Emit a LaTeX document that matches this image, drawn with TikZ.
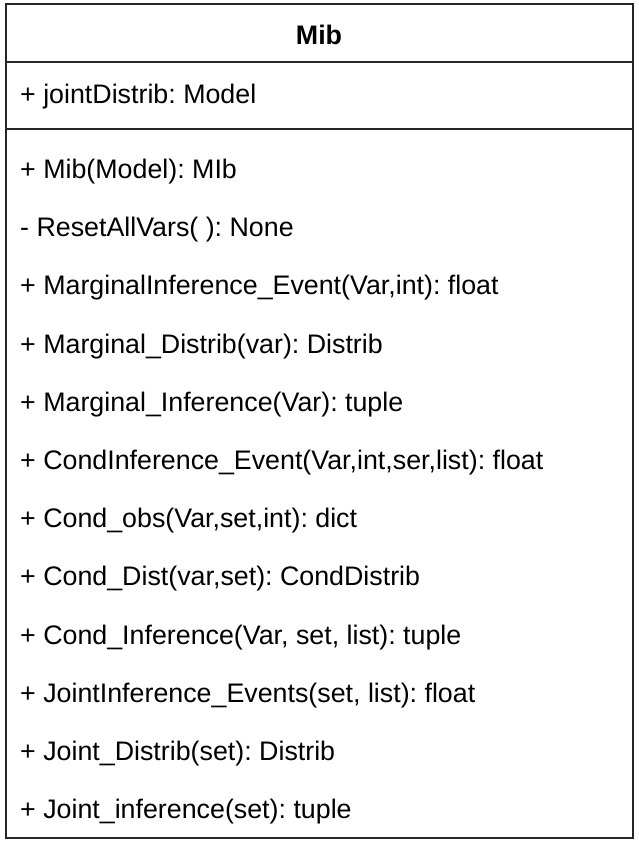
\documentclass[tikz,border=0pt]{standalone}
\usepackage{fontspec}
\setmainfont{Liberation Sans}
\frenchspacing
\usetikzlibrary{shapes}
\tikzstyle{membre}=[anchor=base west,inner sep=0pt,text=black,font=\fontsize{26.8}{30}\selectfont]
\tikzstyle{titre}=[anchor=base,inner sep=0pt,text=black,font=\fontsize{26.8}{30}\selectfont\bfseries]
\tikzstyle{trait}=[draw=black!85,line width=2pt]

\begin{document}
\begin{tikzpicture}[x=1pt,y=-1pt]
      \useasboundingbox (0,0) rectangle (638,842);
      \draw[trait] (5.5,4.5) rectangle (632.5,837.5);
      \draw[trait] (5.5,62) -- (632.5,62);
      \draw[trait] (5.5,129) -- (632.5,129);
      \node[titre] (Mib) at (319,45) {Mib};
      \node[membre] (A) at (20,103.5) {+ jointDistrib: Model};
      \node[membre] (M1) at (20,178.5) {+ Mib(Model): MIb};
      \node[membre] (M2) at (20,236.7) {- ResetAllVars( ): None};
      \node[membre] (M3) at (20,294.9) {+ MarginalInference\_Event(Var,int): float};
      \node[membre] (M4) at (20,353.1) {+ Marginal\_Distrib(var): Distrib};
      \node[membre] (M5) at (20,411.3) {+ Marginal\_Inference(Var): tuple};
      \node[membre] (M6) at (20,469.5) {+ CondInference\_Event(Var,int,ser,list): float};
      \node[membre] (M7) at (20,527.7) {+ Cond\_obs(Var,set,int): dict};
      \node[membre] (M8) at (20,585.9) {+ Cond\_Dist(var,set): CondDistrib};
      \node[membre] (M9) at (20,644.1) {+ Cond\_Inference(Var, set, list): tuple};
      \node[membre] (M10) at (20,702.3) {+ JointInference\_Events(set, list): float};
      \node[membre] (M11) at (20,760.5) {+ Joint\_Distrib(set): Distrib};
      \node[membre] (M12) at (20,818.7) {+ Joint\_inference(set): tuple};
\end{tikzpicture}
\end{document}
